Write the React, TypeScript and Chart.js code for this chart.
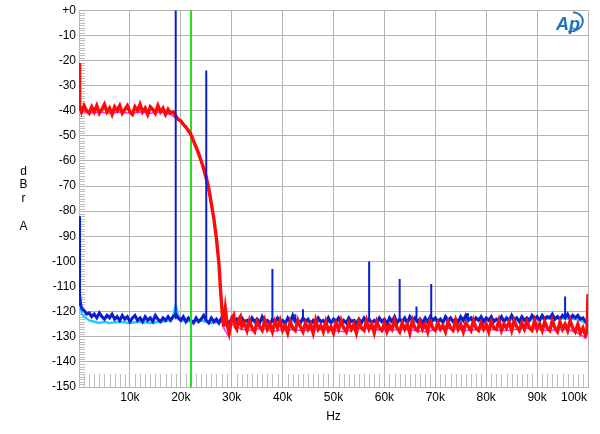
import { useEffect, useRef } from "react";
import { Chart, registerables } from "chart.js";

Chart.register(...registerables);

// ---- axis ticks ----
const xTickK = [10, 20, 30, 40, 50, 60, 70, 80, 90, 100];
const yMin = -150;
const yMax = 0;

// ---- blue trace (spectrum floor) : low-frequency part, kHz / dBrA ----
const blueLowFreq = [0, 0.05, 0.15, 0.3, 0.6, 1, 1.5, 2, 2.5];
const blueLowDb = [-82, -100, -113, -117, -119, -119.5, -121, -120.5, -122];
// uniform FFT bins from 3 kHz to 100 kHz, 0.5 kHz apart
const blueBinStartK = 3;
const blueBinStepK = 0.5;
const blueBinDb = [
  -121, -122.5, -120.5, -122, -123, -121.5, -122.5, -121, -123, -122,
  -123.5, -121.5, -123, -122, -124, -122.5, -121.5, -123.5, -122.5, -124,
  -122, -123.5, -122.5, -124, -121.5, -123, -124, -122.5, -123.5, -122,
  -123.5, -122, -121, -122.5, -123.5, -122, -124, -122.5, -123.5, -124.5,
  -122.5, -124, -123, -121.5, -123.5, -124.5, -122.5, -124, -123, -124.5,
  -122.5, -124, -123.5, -125, -122.5, -124, -123, -124.5, -122.5, -124,
  -123.5, -125, -122.5, -124, -123, -124.5, -122, -124, -123.5, -125,
  -123, -124.5, -122.5, -124, -123.5, -125, -122.5, -124, -121.5, -124,
  -123.5, -124.5, -122.5, -124, -123, -125, -123.5, -124.5, -122.5, -124,
  -123.5, -125, -122.5, -124.5, -123, -124, -122.5, -125, -123.5, -124.5,
  -122.5, -124, -123.5, -125, -123, -124.5, -122.5, -124, -123, -124.5,
  -123.5, -124.5, -122.5, -124, -123, -125, -122.5, -124, -122, -124.5,
  -123, -124, -122.5, -124.5, -122, -123.5, -122.5, -124, -123, -124.5,
  -122.5, -124, -122, -123.5, -122.5, -124, -123, -124.5, -122, -123.5,
  -122.5, -124, -123, -124, -122, -123.5, -121.5, -123.5, -122.5, -124,
  -122.5, -123.5, -122, -124, -122.5, -123.5, -122, -124, -123, -123.5,
  -122, -124, -122.5, -123.5, -121.5, -123.5, -122.5, -124, -122, -123.5,
  -122.5, -123.5, -121.5, -123, -122, -123.5, -121.5, -123, -122, -122.5,
  -121, -123, -122, -123, -121.5, -122.5, -121, -123, -121.5, -122.5,
  -121.5, -123, -122.5, -124, -124.5,
];

// ---- blue tones / harmonics ----
const spikeFreq = [19, 25, 38, 42.5, 44, 57, 63, 66.3, 69.2, 76.4, 95.5];
const spikeTopDb = [0, -24, -103, -121, -119, -100, -107, -118, -109, -120.5, -114];
const spikeFloorDb = [-123, -123, -123.5, -123.5, -123.5, -123.5, -123.5, -123.5, -123, -123, -122.5];

// ---- cyan trace (other channel spectrum) ----
const cyanFreq = [0, 0.1, 0.3, 0.6, 1, 2, 3, 4, 5, 6, 8, 10, 12, 14, 16, 18, 18.6, 19, 19.4, 20, 22, 24, 26, 28, 30, 34, 38, 42, 46, 50, 54, 58, 62, 66, 70, 74, 78, 82, 86, 90, 94, 98, 100];
const cyanDb = [-84, -112, -118, -121, -122, -123.5, -124, -124.5, -124, -124.5, -124, -124.5, -124, -124.5, -124, -123.5, -121, -117.5, -121, -123.5, -124, -123.5, -124.5, -124, -124, -123.5, -124, -123.5, -124, -124, -123.5, -124, -123.5, -124, -123.5, -123.5, -123, -123.5, -123, -123, -122.5, -123, -125];

// ---- red trace (noise + rolloff) ----
const redFreq = [0, 0.1, 0.5, 1, 1.5, 2, 2.5, 3, 3.5, 4, 4.5, 5, 5.5, 6, 6.5, 7, 7.5, 8, 8.5, 9, 9.5, 10, 10.5, 11, 11.5, 12, 12.5, 13, 13.5, 14, 14.5, 15, 15.5, 16, 16.5, 17, 17.5, 18, 18.5, 19, 19.5, 20, 20.5, 21, 21.5, 22, 22.5, 23, 23.5, 24, 24.5, 25, 25.5, 26, 26.5, 27, 27.5, 27.8, 28.1, 28.4, 28.75, 29.1, 29.5, 30, 30.4, 30.7, 31, 31.4, 31.7, 32];
const redDb = [-21, -38, -40.5, -38, -40, -41, -38.5, -40.5, -38, -41, -39.5, -37.5, -40.5, -39, -41.5, -38.5, -40, -38, -41, -39.5, -38, -40.5, -41.5, -38.5, -40, -37.5, -40.5, -39, -41.5, -38.5, -39.5, -41, -38, -40.5, -39, -41.5, -39.5, -41, -40.5, -42, -43.5, -44, -45.5, -46.5, -48, -49.5, -52, -54.5, -57, -60, -63, -66.5, -71, -77, -83, -91, -101, -111, -119.5, -126, -119, -125, -128.5, -123, -121.5, -126, -127, -123, -122, -126];
// uniform FFT bins from 32.5 kHz to 99.5 kHz, 0.5 kHz apart
const redBinStartK = 32.5;
const redBinStepK = 0.5;
const redBinDb = [
  -124.5, -127.5, -123.5, -126.5, -128, -124, -126, -127.5, -123.5, -127,
  -125, -128, -124, -126.5, -123.5, -127.5, -125.5, -128.5, -124, -126.5,
  -127.5, -123.5, -126, -128, -124.5, -127, -125, -128.5, -123.5, -127,
  -125.5, -128, -124, -127.5, -126, -128.5, -124.5, -127, -123.5, -126.5,
  -128, -124.5, -127, -125, -128.5, -124, -126.5, -127.5, -123.5, -127,
  -125, -128.5, -124, -126.5, -127.5, -124.5, -128, -125.5, -127, -123.5,
  -126.5, -128, -124.5, -127, -125, -128.5, -123.5, -126.5, -127.5, -124,
  -127, -125, -128, -123.5, -126.5, -127.5, -124.5, -127, -125.5, -128,
  -124, -126.5, -127.5, -123.5, -127, -125, -128, -124.5, -126, -127.5,
  -123.5, -126.5, -127.5, -124.5, -127, -125, -128, -124, -126.5, -127,
  -123.5, -127.5, -125, -126.5, -124, -127.5, -123.5, -126, -127.5, -124.5,
  -127, -124, -126.5, -127.5, -123.5, -127, -125, -127.5, -124, -126.5,
  -127.5, -123.5, -126.5, -128, -124, -127, -125, -127.5, -123.5, -126.5,
  -128, -125, -128.5, -126.5, -129.5,
];
const redEndFreq = [99.8, 100];
const redEndDb = [-128.5, -113];

// ---- magenta trace (other channel noise) ----
const magentaFreq = [0, 0.2, 2, 4, 6, 8, 10, 12, 14, 16, 18, 20, 22, 24, 26, 27, 28, 28.4, 29.3, 30, 32, 34, 36, 38, 40, 44, 48, 52, 56, 60, 64, 68, 72, 76, 80, 84, 88, 92, 96, 98, 99.6, 100];
const magentaDb = [-22, -40, -41, -40.5, -41, -40.5, -41, -40.5, -41, -40.5, -41.5, -44.5, -49.5, -60.5, -77, -91, -116, -126.5, -129.5, -125, -127, -127.5, -126.5, -128, -127, -127.5, -127, -128, -126.5, -127.5, -127, -128, -126.5, -127.5, -127, -127.5, -126.5, -127.5, -127, -128.5, -130.5, -114];

// ---- green marker ----
const markerFreq = 22;

const FONT = '"Liberation Sans", Arial, sans-serif';

export default function App() {
  const ref = useRef<HTMLCanvasElement>(null);

  useEffect(() => {
    const toPts = (xs: number[], ys: number[]) => xs.map((x, i) => ({ x, y: ys[i] }));
    const binPts = (start: number, step: number, ys: number[]) =>
      ys.map((y, i) => ({ x: start + i * step, y }));

    const bluePts = [...toPts(blueLowFreq, blueLowDb), ...binPts(blueBinStartK, blueBinStepK, blueBinDb)];
    const redPts = [...toPts(redFreq, redDb), ...binPts(redBinStartK, redBinStepK, redBinDb), ...toPts(redEndFreq, redEndDb)];

    const spikePts: { x: number; y: number | null }[] = [];
    spikeFreq.forEach((f, i) => {
      spikePts.push({ x: f, y: spikeFloorDb[i] }, { x: f, y: spikeTopDb[i] }, { x: f, y: null });
    });

    const decor = {
      id: "decor",
      beforeDatasetsDraw(chart: any) {
        const { ctx, chartArea, scales } = chart;
        const { left, bottom } = chartArea;
        ctx.save();
        ctx.strokeStyle = "#bdbdbd";
        ctx.lineWidth = 1;
        ctx.beginPath();
        for (let v = 1; v < 100; v++) {
          if (v % 10 === 0) continue;
          const px = Math.round(scales.x.getPixelForValue(v)) + 0.5;
          ctx.moveTo(px, bottom);
          ctx.lineTo(px, bottom - 13);
        }
        for (let d = yMin + 1; d < yMax; d++) {
          if (d % 10 === 0) continue;
          const py = Math.round(scales.y.getPixelForValue(d)) + 0.5;
          ctx.moveTo(left, py);
          ctx.lineTo(left + 6, py);
        }
        ctx.stroke();
        ctx.restore();
      },
      afterDraw(chart: any) {
        const { ctx, chartArea, scales } = chart;
        const { left, right } = chartArea;
        ctx.save();
        ctx.fillStyle = "#000";
        ctx.font = `12px ${FONT}`;
        ctx.textBaseline = "middle";
        ctx.textAlign = "center";
        xTickK.forEach((v) => {
          const t = `${v}k`;
          const w = ctx.measureText(t).width;
          let cx = scales.x.getPixelForValue(v);
          if (cx + w / 2 > right - 1) cx = right - 1 - w / 2;
          ctx.fillText(t, cx, 398);
        });
        ctx.fillText("Hz", (left + right) / 2, 417);
        ctx.textBaseline = "alphabetic";
        const letters = ["d", "B", "r", "", "A"];
        letters.forEach((c, i) => {
          if (c) ctx.fillText(c, 23.5, 174.5 + i * 13.75);
        });
        // Ap logo
        ctx.fillStyle = "#1f72b8";
        ctx.strokeStyle = "#1f72b8";
        ctx.font = `italic bold 18px ${FONT}`;
        ctx.textAlign = "left";
        ctx.fillText("Ap", 556, 30);
        ctx.lineWidth = 1.8;
        ctx.beginPath();
        ctx.ellipse(571, 22, 12, 9.5, -0.25, -1.2, 2.0);
        ctx.stroke();
        ctx.restore();
      },
    };

    const chart = new Chart(ref.current as HTMLCanvasElement, {
      type: "line",
      data: {
        datasets: [
          { label: "tones", data: spikePts as any, borderColor: "#0a1ed2", borderWidth: 2, pointRadius: 0, spanGaps: false },
          { label: "red", data: redPts, borderColor: "#ff0a0a", borderWidth: 3.4, pointRadius: 0 },
          { label: "magenta", data: toPts(magentaFreq, magentaDb), borderColor: "#ff22ff", borderWidth: 1.5, pointRadius: 0 },
          { label: "marker", data: [{ x: markerFreq, y: yMax }, { x: markerFreq, y: yMin }], borderColor: "#22e022", borderWidth: 2, pointRadius: 0 },
          { label: "blue", data: bluePts, borderColor: "#0a1ed2", borderWidth: 3, pointRadius: 0 },
          { label: "cyan", data: toPts(cyanFreq, cyanDb), borderColor: "#22ccff", borderWidth: 2.5, pointRadius: 0 },
        ],
      },
      options: {
        responsive: false,
        animation: false,
        devicePixelRatio: 1,
        parsing: { xAxisKey: "x", yAxisKey: "y" } as any,
        layout: { padding: { top: 9, right: 12, left: 0, bottom: 0 } },
        plugins: { legend: { display: false }, tooltip: { enabled: false } },
        elements: { line: { tension: 0 } },
        scales: {
          x: {
            type: "linear",
            min: 0,
            max: 100,
            ticks: { display: false, stepSize: 10 },
            grid: { color: "#b4b4b4", drawTicks: false, lineWidth: 1 },
            border: { color: "#b4b4b4" },
            afterFit: (s: any) => {
              s.height = 47;
            },
          },
          y: {
            type: "linear",
            min: yMin,
            max: yMax,
            ticks: {
              stepSize: 10,
              color: "#000",
              padding: 3,
              font: { family: FONT, size: 12 },
              callback: (v: any) => (v === 0 ? "+0" : String(v)),
            },
            grid: { color: "#b4b4b4", drawTicks: false, lineWidth: 1 },
            border: { color: "#b4b4b4" },
            afterFit: (s: any) => {
              s.width = 79;
            },
          },
        },
      },
      plugins: [decor],
    });
    return () => chart.destroy();
  }, []);

  return (
    <div style={{ position: "fixed", left: 0, top: 0, width: 600, height: 434, background: "#fff" }}>
      <canvas ref={ref} width={600} height={434} style={{ display: "block", width: 600, height: 434 }} />
    </div>
  );
}
